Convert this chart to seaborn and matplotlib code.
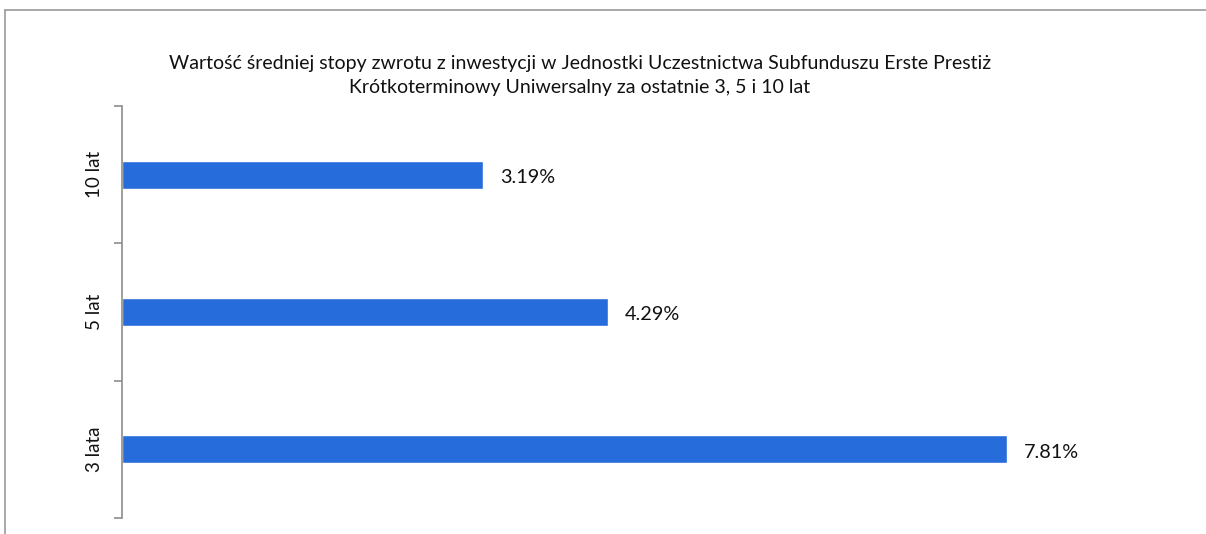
import matplotlib
matplotlib.use("Agg")
import matplotlib.pyplot as plt
import pandas as pd
import seaborn as sns
from matplotlib.lines import Line2D

periods = ["10 lat", "5 lat", "3 lata"]
returns_pct = [3.19, 4.29, 7.81]
title = ("Wartość średniej stopy zwrotu z inwestycji w Jednostki Uczestnictwa Subfunduszu Erste Prestiż\n"
         "Krótkoterminowy Uniwersalny za ostatnie 3, 5 i 10 lat")

BAR_COLOR = "#276CDB"
W, H = 1206, 534

sns.set_theme(style="white")
plt.rcParams["font.family"] = ["Lato", "DejaVu Sans"]

df = pd.DataFrame({"period": periods, "value": returns_pct})

fig = plt.figure(figsize=(W / 100, H / 100), dpi=100)
ax = fig.add_axes([122 / W, (H - 518) / H, (1190 - 122) / W, (518 - 106) / H])

sns.barplot(data=df, x="value", y="period", order=periods, orient="h",
            color=BAR_COLOR, saturation=1, width=0.205, ax=ax)

ax.set_xlim(0, 9.43)
ax.set_ylim(2.5, -0.5)
for sp in ["top", "right", "bottom"]:
    ax.spines[sp].set_visible(False)
ax.spines["left"].set_color("#8c8c8c")
ax.spines["left"].set_linewidth(1.2)
ax.set_xticks([])
ax.set_xlabel("")
ax.set_ylabel("")

# Excel-style: tick marks at category boundaries, labels at centres
ax.set_yticks([-0.5, 0.5, 1.5, 2.5])
ax.set_yticklabels([])
ax.tick_params(axis="y", which="major", left=True, length=6, width=1.2, color="#8c8c8c")
ax.set_yticks(range(len(periods)), minor=True)
ax.set_yticklabels(periods, minor=True, rotation=90, va="center", fontsize=13.5, color="#111111")
ax.tick_params(axis="y", which="minor", length=0, pad=14)

for i, v in enumerate(returns_pct):
    ax.text(v + 0.15, i + 0.02, f"{v:.2f}%", va="center", ha="left", fontsize=14.3, color="#111111")

fig.text(580 / W, 1 - 75.5 / H, title, ha="center", va="center", fontsize=14,
         color="#111111", linespacing=1.45)

# outer chart frame (partially visible)
fig.add_artist(Line2D([5 / W, 1], [1 - 10 / H, 1 - 10 / H], color="#9a9a9a", lw=1.2))
fig.add_artist(Line2D([5 / W, 5 / W], [0, 1 - 10 / H], color="#9a9a9a", lw=1.2))

fig.savefig("out.png", dpi=100, facecolor="white")
